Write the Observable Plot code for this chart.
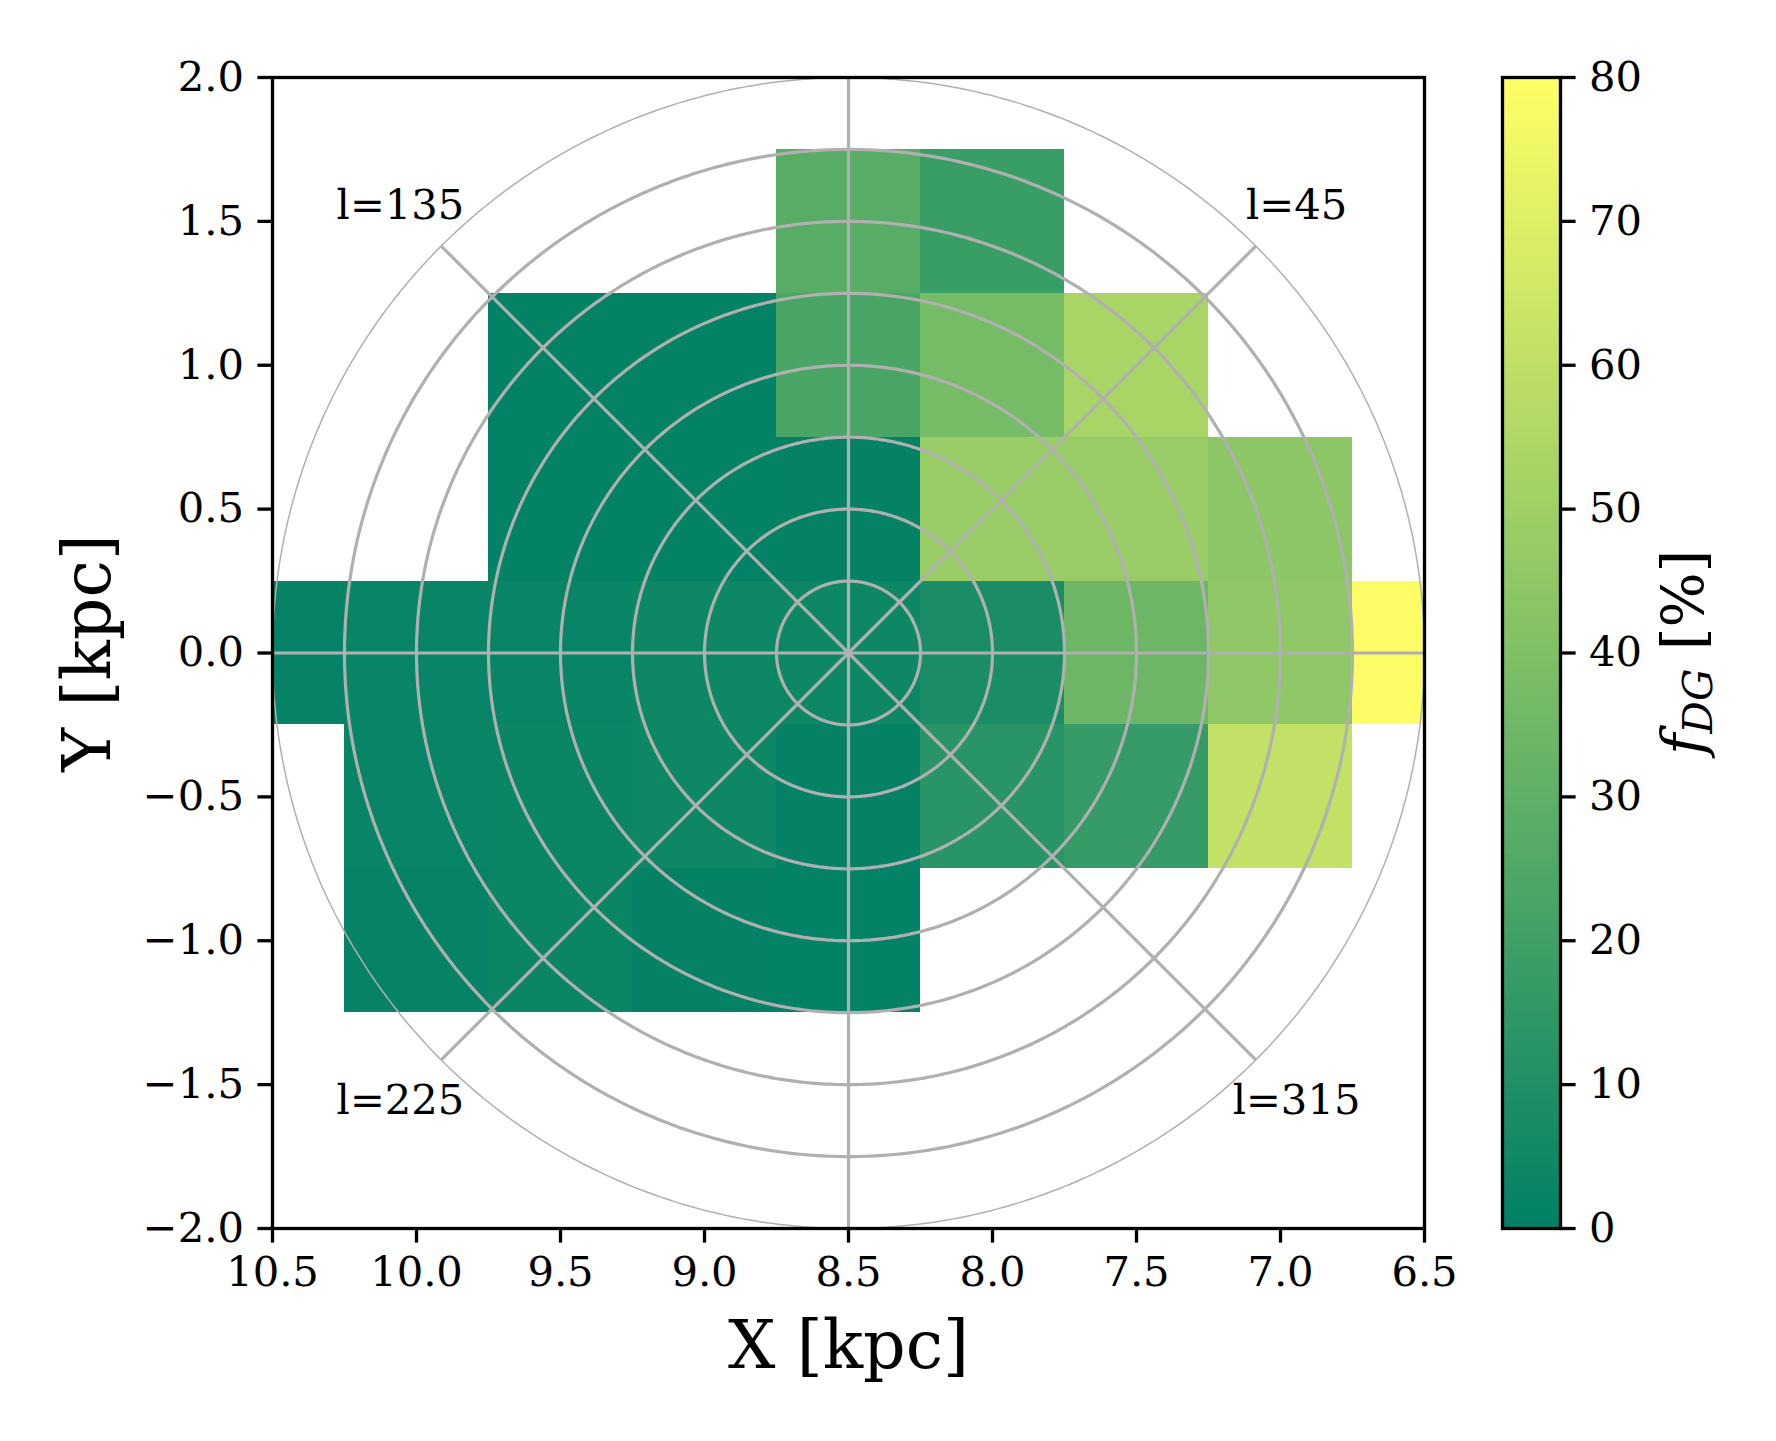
<!DOCTYPE html>
<html>
<head>
<meta charset="utf-8">
<script src="https://cdn.jsdelivr.net/npm/d3@7"></script>
<script src="https://cdn.jsdelivr.net/npm/@observablehq/plot@0.6"></script>
<style>
  html, body { margin: 0; padding: 0; background: white; }
  #wrap { position: relative; width: 1776px; height: 1441px; }
  #wrap svg { position: absolute; left: 0; top: 0; max-width: none; }
</style>
</head>
<body>
<div id="wrap"></div>
<script>
// ---- data ----
const cellX = [8.5, 8.0,
               9.5, 9.0, 8.5, 8.0, 7.5,
               9.5, 9.0, 8.5, 8.0, 7.5, 7.0,
               10.5, 10.0, 9.5, 9.0, 8.5, 8.0, 7.5, 7.0, 6.5,
               10.0, 9.5, 9.0, 8.5, 8.0, 7.5, 7.0,
               10.0, 9.5, 9.0, 8.5];
const cellY = [1.5, 1.5,
               1.0, 1.0, 1.0, 1.0, 1.0,
               0.5, 0.5, 0.5, 0.5, 0.5, 0.5,
               0, 0, 0, 0, 0, 0, 0, 0, 0,
               -0.5, -0.5, -0.5, -0.5, -0.5, -0.5, -0.5,
               -1.0, -1.0, -1.0, -1.0];
const cellF = [28, 18,
               1, 1, 23, 37, 53,
               1, 1, 1.5, 48, 48, 44,
               2, 2.5, 2.5, 4.5, 4.5, 8.5, 34, 45, 79,
               2.5, 3, 4.5, 1.5, 13, 17, 61,
               2, 3, 1.5, 1];
const binHalf = 0.25;
const sunX = 8.5;
const ringRadii = [0.25, 0.5, 0.75, 1.0, 1.25, 1.5, 1.75];
const outerRadius = 2.0;
const spokeAngles = [0, 45, 90, 135, 180, 225, 270, 315];
const labelAngles = [45, 135, 225, 315];
const labelRadius = 2.2;
const xTicks = [10.5, 10.0, 9.5, 9.0, 8.5, 8.0, 7.5, 7.0, 6.5];
const yTicks = [-2.0, -1.5, -1.0, -0.5, 0.0, 0.5, 1.0, 1.5, 2.0];
const cbTicks = [0, 10, 20, 30, 40, 50, 60, 70, 80];
const fDomain = [0, 80];
const summerRange = ["#008066", "#ffff66"];

// ---- derived tables ----
const cells = cellX.map((x, i) => ({x, y: cellY[i], f: cellF[i]}));
const rad = Math.PI / 180;
const circlePts = r => d3.range(0, 360.5, 0.5).map(a => ({r, x: sunX + r * Math.cos(a * rad), y: r * Math.sin(a * rad)}));
const rings = ringRadii.flatMap(circlePts);
const outer = circlePts(outerRadius);
const spokes = spokeAngles.map(l => ({l, x2: sunX - outerRadius * Math.cos(l * rad), y2: outerRadius * Math.sin(l * rad)}));
const lLabels = labelAngles.map(l => ({text: "l=" + l, x: sunX - labelRadius * Math.cos(l * rad), y: labelRadius * Math.sin(l * rad)}));

const W = 1776, H = 1441;
const mT = 77, mB = 213;
const font = "DejaVu Serif";
const tickFont = 41.67, titleFont = 66.67, cbTitleFont = 58;
const grid = "#b0b0b0";
const colorScale = {type: "linear", domain: fDomain, range: summerRange, interpolate: "rgb"};

const main = Plot.plot({
  width: W, height: H,
  marginLeft: 272, marginRight: 352, marginTop: mT, marginBottom: mB,
  style: {fontFamily: font, fontSize: tickFont + "px", color: "black", background: "white"},
  x: {domain: [10.5, 6.5]},
  y: {domain: [-2, 2]},
  color: colorScale,
  marks: [
    Plot.rect(cells, {x1: d => d.x + binHalf, x2: d => d.x - binHalf, y1: d => d.y - binHalf, y2: d => d.y + binHalf, fill: "f", clip: true, shapeRendering: "crispEdges"}),
    Plot.line(rings, {x: "x", y: "y", z: "r", stroke: grid, strokeWidth: 3.2}),
    Plot.line(outer, {x: "x", y: "y", stroke: grid, strokeWidth: 1.5}),
    Plot.link(spokes, {x1: () => sunX, y1: () => 0, x2: "x2", y2: "y2", stroke: grid, strokeWidth: 3.2}),
    Plot.text(lLabels, {x: "x", y: "y", text: "text", fontSize: tickFont, fill: "black"}),
    Plot.frame({stroke: "black", strokeWidth: 3.3}),
    Plot.axisX({ticks: xTicks, tickFormat: d3.format(".1f"), tickSize: 14.6, tickPadding: 13, strokeWidth: 3.3, label: null, fontSize: tickFont}),
    Plot.axisY({ticks: yTicks, tickFormat: d3.format(".1f"), tickSize: 14.6, tickPadding: 14, strokeWidth: 3.3, label: null, fontSize: tickFont}),
    Plot.text(["X [kpc]"], {frameAnchor: "bottom", dy: 118, textAnchor: "middle", lineAnchor: "middle", fontSize: titleFont, fill: "black"}),
    Plot.text(["Y [kpc]"], {frameAnchor: "left", dx: -184, rotate: -90, textAnchor: "middle", lineAnchor: "middle", fontSize: titleFont, fill: "black"})
  ]
});

const cbSteps = d3.range(fDomain[0], fDomain[1], 0.5);
const cbar = Plot.plot({
  width: W, height: H,
  marginLeft: 1502, marginRight: W - 1560, marginTop: mT, marginBottom: mB,
  style: {fontFamily: font, fontSize: tickFont + "px", color: "black", background: "transparent"},
  y: {domain: fDomain},
  color: colorScale,
  marks: [
    Plot.rect(cbSteps, {y1: d => d, y2: d => d + 0.5, fill: d => d + 0.25, shapeRendering: "crispEdges"}),
    Plot.frame({stroke: "black", strokeWidth: 3.3}),
    Plot.axisY({anchor: "right", ticks: cbTicks, tickFormat: d3.format("d"), tickSize: 14.6, tickPadding: 14, strokeWidth: 3.3, label: null, fontSize: tickFont})
  ]
});

const wrap = document.getElementById("wrap");
wrap.appendChild(main);
wrap.appendChild(cbar);

// colorbar title with italic f and subscript DG
const t = d3.select(cbar).append("text")
  .attr("transform", `translate(1703,${(mT + (H - mB)) / 2}) rotate(-90)`)
  .attr("text-anchor", "middle")
  .attr("font-family", font)
  .attr("font-size", cbTitleFont)
  .attr("fill", "black");
t.append("tspan").attr("font-style", "italic").text("f");
t.append("tspan").attr("font-style", "italic").attr("font-size", cbTitleFont * 0.7).attr("dy", 9).text("DG");
t.append("tspan").attr("dy", -9).text("\u00a0[%]");
</script>
</body>
</html>
